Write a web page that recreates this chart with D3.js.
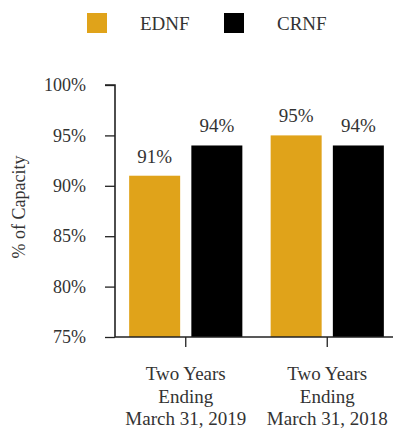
<!DOCTYPE html>
<html>
<head>
<meta charset="utf-8">
<script src="https://cdn.jsdelivr.net/npm/d3@7"></script>
<style>
  html, body { margin: 0; padding: 0; background: #fff; }
  svg text { font-family: "Liberation Serif", "Times New Roman", serif; }
</style>
</head>
<body>
<svg id="chart" width="393" height="428"></svg>
<script>
// Capacity utilisation, two-year periods
const categories = [
  ["Two Years", "Ending", "March 31, 2019"],
  ["Two Years", "Ending", "March 31, 2018"]
];
const seriesNames = ["EDNF", "CRNF"];
const ednfValues = [91, 95];   // EDNF
const crnfValues = [94, 94];   // CRNF
const yTicks = [75, 80, 85, 90, 95, 100];
const seriesColors = ["#E0A31A", "#000000"];

const seriesValues = [ednfValues, crnfValues];
const catKeys = categories.map(c => c.join(" "));

const FONT = "Liberation Serif, Times New Roman, serif";
const svg = d3.select("#chart");
const textColor = "#333";

const margin = { left: 115, top: 85, bottom: 337, right: 398 };

const y = d3.scaleLinear().domain([75, 100]).range([margin.bottom, margin.top]);
const x0 = d3.scaleBand().domain(catKeys).range([margin.left, margin.right])
  .paddingInner(0.2).paddingOuter(0.1);
const x1 = d3.scaleBand().domain(seriesNames).range([0, x0.bandwidth()]).paddingInner(0.18);
const color = d3.scaleOrdinal().domain(seriesNames).range(seriesColors);

// bars
const groups = svg.append("g").selectAll("g")
  .data(catKeys)
  .join("g")
  .attr("transform", d => `translate(${x0(d)},0)`);

const cells = (d, i) => seriesNames.map((s, j) => ({ s, v: seriesValues[j][i] }));

groups.selectAll("rect")
  .data(cells)
  .join("rect")
  .attr("x", d => x1(d.s))
  .attr("width", x1.bandwidth())
  .attr("y", d => y(d.v))
  .attr("height", d => y(75) - y(d.v))
  .attr("fill", d => color(d.s));

groups.selectAll("text.val")
  .data(cells)
  .join("text")
  .attr("class", "val")
  .attr("x", d => x1(d.s) + x1.bandwidth() / 2)
  .attr("y", d => y(d.v) - 13)
  .attr("text-anchor", "middle")
  .attr("font-family", FONT)
  .attr("font-size", 19)
  .attr("fill", textColor)
  .text(d => d.v + "%");

// y axis
const yAxis = svg.append("g")
  .attr("transform", `translate(${margin.left},0)`)
  .call(d3.axisLeft(y).tickValues(yTicks).tickSize(10).tickPadding(19).tickFormat(d => d + "%"));
yAxis.attr("font-family", FONT);
yAxis.select(".domain").attr("stroke", "#222").attr("stroke-width", 1.6)
  .attr("d", `M-10,${y(100)}H0V${y(75)}`);
yAxis.selectAll(".tick line").attr("stroke", "#222").attr("stroke-width", 1.3);
yAxis.selectAll(".tick text")
  .attr("font-family", FONT)
  .attr("font-size", 18)
  .attr("fill", textColor);

// x axis
const xAxis = svg.append("g")
  .attr("transform", `translate(0,${margin.bottom})`)
  .call(d3.axisBottom(x0).tickSize(10).tickFormat(""));
xAxis.select(".domain").attr("stroke", "#222").attr("stroke-width", 1.6)
  .attr("d", `M${margin.left},0H${margin.right}`);
xAxis.selectAll(".tick line").attr("stroke", "#222").attr("stroke-width", 1.3);

// multi-line category labels
svg.append("g").selectAll("text")
  .data(categories)
  .join("text")
  .attr("x", (d, i) => x0(catKeys[i]) + x0.bandwidth() / 2)
  .attr("y", margin.bottom + 43)
  .attr("text-anchor", "middle")
  .attr("font-family", FONT)
  .attr("font-size", 19)
  .attr("fill", textColor)
  .selectAll("tspan")
  .data(d => d)
  .join("tspan")
  .attr("x", function () { return d3.select(this.parentNode).attr("x"); })
  .attr("dy", (d, i) => i === 0 ? 0 : 22.5)
  .text(d => d);

// y axis title
svg.append("text")
  .attr("transform", `translate(25,${(margin.top + margin.bottom) / 2 - 4}) rotate(-90)`)
  .attr("text-anchor", "middle")
  .attr("font-family", FONT)
  .attr("font-size", 18)
  .attr("fill", textColor)
  .text("% of Capacity");

// legend
const legendX = [87, 224];
const legend = svg.append("g").selectAll("g")
  .data(seriesNames)
  .join("g")
  .attr("transform", (d, i) => `translate(${legendX[i]},13)`);
legend.append("rect")
  .attr("width", 20).attr("height", 20)
  .attr("fill", d => color(d));
legend.append("text")
  .attr("x", 53).attr("y", 16.5)
  .attr("font-family", FONT)
  .attr("font-size", 19)
  .attr("fill", textColor)
  .text(d => d);
</script>
</body>
</html>
